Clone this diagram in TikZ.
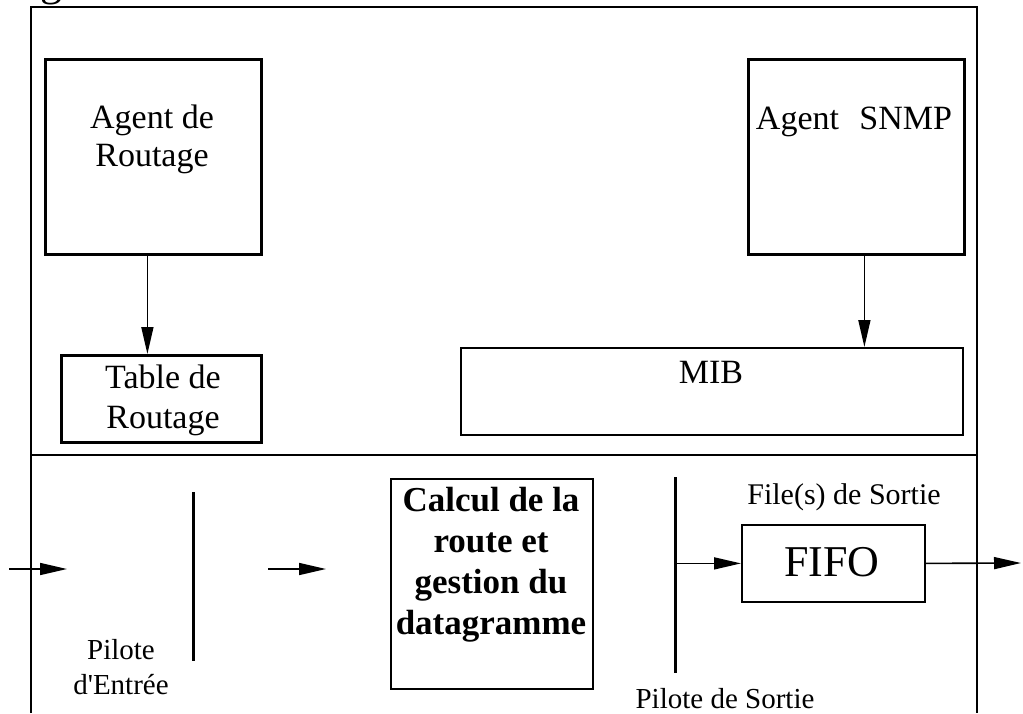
\documentclass[tikz,border=0pt]{standalone}
\usepackage{fontspec}
\setmainfont{Liberation Serif}
\usetikzlibrary{arrows.meta}
\begin{document}
\begin{tikzpicture}[x=0.5pt,y=-0.5pt,
  box/.style={draw, line width=1.4pt, inner sep=0, anchor=north west},
  thinbox/.style={draw, line width=0.9pt, inner sep=0, anchor=north west},
  conn/.style={line width=0.8pt, -{Triangle[length=13.5pt,width=6pt]}},
  txt/.style={inner sep=0, align=center, font=\fontsize{17pt}{19pt}\selectfont},
  small/.style={inner sep=0, align=center, font=\fontsize{14.5pt}{17.5pt}\selectfont},
  frameline/.style={line width=1pt},
  bar/.style={line width=1.5pt}]
\useasboundingbox (0,0) rectangle (1023,713);
% cut-off caption letter
\node[anchor=south west, inner sep=0, font=\fontsize{22pt}{26pt}\selectfont] (cap) at (40,5) {g};
% frame
\draw[frameline] (31,713) -- (31,7) -- (977,7) -- (977,713);
\draw[frameline] (31,455) -- (977,455);
% upper boxes
\node[box, minimum width=108pt, minimum height=97.5pt] (ar) at (44,58) {};
\node[box, minimum width=100pt, minimum height=43.5pt] (tr) at (60,354) {};
\node[box, minimum width=108pt, minimum height=97.5pt] (snmp) at (747,58) {};
\node[thinbox, minimum width=251pt, minimum height=43.5pt] (mib) at (460,347) {};
\node[txt] (artxt) at (152,139) {Agent de\\Routage};
\node[txt, font=\fontsize{17pt}{20pt}\selectfont] (trtxt) at (163,400) {Table de\\Routage};
\node[txt] (snmptxt) at (854,122) {Agent\hspace{0.6em}SNMP};
\node[txt] (mibtxt) at (711,372) {MIB};
\draw[conn] ([xshift=-3pt]ar.south) -- ([xshift=-3pt]ar.south |- tr.north);
\draw[conn] ([xshift=4pt]snmp.south) -- ([xshift=4pt]snmp.south |- mib.north);
% lower part
\node[thinbox, minimum width=101pt, minimum height=105pt] (calc) at (390,478) {};
\node[txt, font=\bfseries\fontsize{17.5pt}{20.5pt}\selectfont] (calctxt) at (491,565) {Calcul de la\\route et\\gestion du\\datagramme};
\node[thinbox, minimum width=91.5pt, minimum height=38.5pt] (fifo) at (741,524) {};
\node[inner sep=0, font=\fontsize{22pt}{26pt}\selectfont] (fifotxt) at (832,562) {FIFO};
\node[small, font=\fontsize{15pt}{18pt}\selectfont] (filetxt) at (844,497) {File(s) de Sortie};
\node[small] (pin) at (121,667) {Pilote\\d\textquotesingle Entrée};
\node[small] (pout) at (725,699) {Pilote de Sortie};
% bars
\coordinate (b1t) at (193,492);
\coordinate (b1b) at (193,661);
\coordinate (b2t) at (675,477);
\coordinate (b2b) at (675,673);
\draw[bar] (b1t) -- (b1b);
\draw[bar] (b2t) -- (b2b);
% arrows
\coordinate (in0) at (9,569);
\coordinate (in1) at (67,569);
\coordinate (mid0) at (268,569);
\coordinate (mid1) at (326,569);
\coordinate (out1) at (1021,563);
\draw[conn] (in0) -- (in1);
\draw[conn] (mid0) -- (mid1);
\draw[conn] (b2t |- fifo.west) -- (fifo.west);
\draw[conn] (fifo.east) -- (out1);
\end{tikzpicture}
\end{document}
